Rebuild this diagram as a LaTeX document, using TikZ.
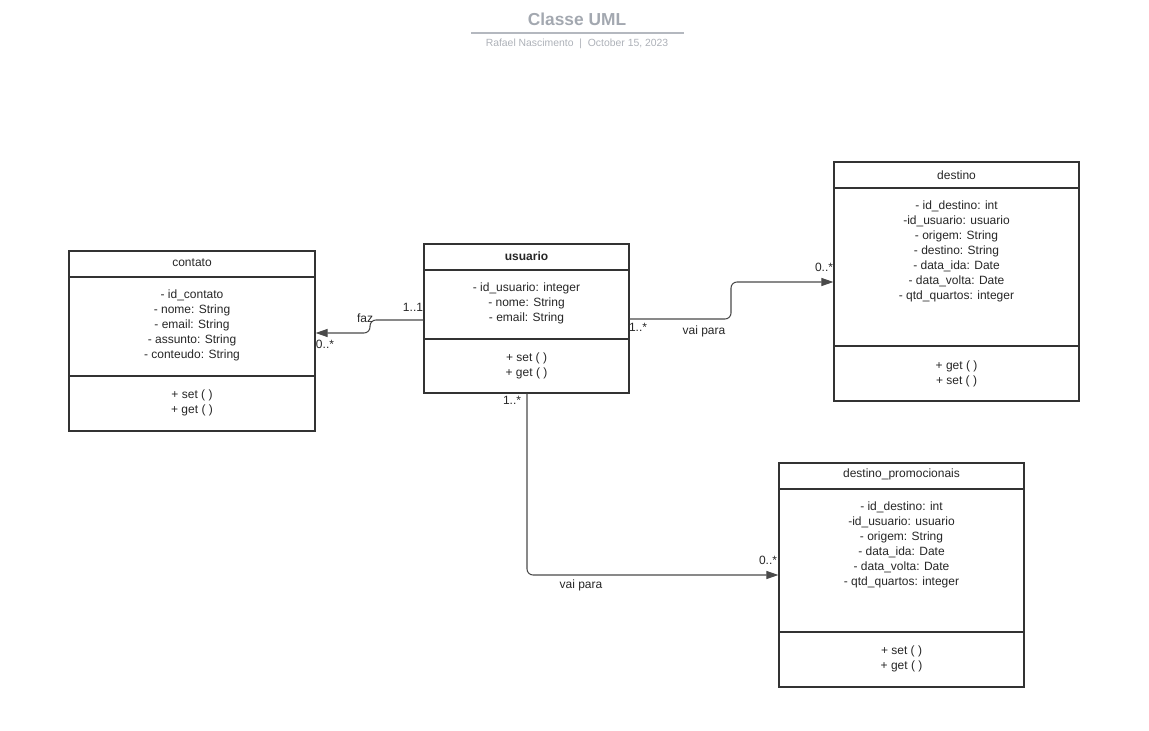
\documentclass[tikz,border=0pt]{standalone}
\usepackage{fontspec}
\setmainfont{Liberation Sans}
\usetikzlibrary{arrows.meta,fit}
\definecolor{boxline}{HTML}{333333}
\definecolor{conn}{HTML}{4A4A4A}
\definecolor{titlegray}{HTML}{A3A8B0}
\definecolor{subgray}{HTML}{ADB1B8}
\definecolor{rulegray}{HTML}{B4B8BF}
\definecolor{txt}{HTML}{262626}
\tikzset{
  every node/.style={font=\fontsize{9}{11.25}\selectfont, text=txt, inner sep=0pt},
  classbox/.style={draw=boxline, line width=0.9pt, inner sep=0pt},
  sepline/.style={draw=boxline, line width=0.9pt},
  compart/.style={align=center},
  assoc/.style={draw=conn, line width=0.8pt, rounded corners=4.5pt, -{Triangle[length=9pt,width=6pt]}},
  mult/.style={}
}
\begin{document}
\begin{tikzpicture}[x=0.75pt,y=-0.75pt]
\useasboundingbox (0,0) rectangle (1149,731);

% title block
\node[font=\fontsize{13}{15}\selectfont\bfseries, text=titlegray] (title) at (577,19) {Classe UML};
\draw[rulegray, line width=1.4pt] (471,33) -- (684,33);
\node[font=\fontsize{7.8}{9}\selectfont, text=subgray] (sub) at (577,44) {Rafael Nascimento \ | \ October 15, 2023};

% contato
\node[classbox, fit={(69,251) (315,431)}] (contato) {};
\draw[sepline] (contato.west |- 0,277) -- (contato.east |- 0,277);
\draw[sepline] (contato.west |- 0,376) -- (contato.east |- 0,376);
\node (contatoN) at (192,263) {contato};
\node[compart] (contatoA) at (192,325.5) {- id\_contato\\- nome: String\\- email: String\\- assunto: String\\- conteudo: String};
\node[compart] (contatoM) at (192,402.5) {+ set ( )\\+ get ( )};

% usuario
\node[classbox, fit={(424,244) (629,393)}] (usuario) {};
\draw[sepline] (usuario.west |- 0,270) -- (usuario.east |- 0,270);
\draw[sepline] (usuario.west |- 0,339) -- (usuario.east |- 0,339);
\node[font=\fontsize{9}{11.25}\selectfont\bfseries] (usuarioN) at (526.5,256) {usuario};
\node[compart] (usuarioA) at (526.5,303.5) {- id\_usuario: integer\\- nome: String\\- email: String};
\node[compart] (usuarioM) at (526.5,365.5) {+ set ( )\\+ get ( )};

% destino
\node[classbox, fit={(834,162) (1079,401)}] (destino) {};
\draw[sepline] (destino.west |- 0,188) -- (destino.east |- 0,188);
\draw[sepline] (destino.west |- 0,346) -- (destino.east |- 0,346);
\node (destinoN) at (956.5,175) {destino};
\node[compart] (destinoA) at (956.5,251.5) {- id\_destino: int\\-id\_usuario: usuario\\- origem: String\\- destino: String\\- data\_ida: Date\\- data\_volta: Date\\- qtd\_quartos: integer};
\node[compart] (destinoM) at (956.5,373.5) {+ get ( )\\+ set ( )};

% destino_promocionais
\node[classbox, fit={(779,463) (1024,687)}] (promo) {};
\draw[sepline] (promo.west |- 0,489) -- (promo.east |- 0,489);
\draw[sepline] (promo.west |- 0,632) -- (promo.east |- 0,632);
\node (promoN) at (901.5,474) {destino\_promocionais};
\node[compart] (promoA) at (901.5,545) {- id\_destino: int\\-id\_usuario: usuario\\- origem: String\\- data\_ida: Date\\- data\_volta: Date\\- qtd\_quartos: integer};
\node[compart] (promoM) at (901.5,658.5) {+ set ( )\\+ get ( )};

% associations
\draw[assoc] (usuario.west |- 0,320) -- (370,320) -- (370,333) -- (contato.east |- 0,333);
\node[mult] (m1a) at (413,307) {1..1};
\node[mult] (m1b) at (325,344) {0..*};
\node[mult] (faz) at (365,318) {faz};

\draw[assoc] (usuario.east |- 0,319) -- (731,319) -- (731,282) -- (destino.west |- 0,282);
\node[mult] (m2a) at (638,327) {1..*};
\node[mult] (m2b) at (824,267) {0..*};
\node[mult] (vp1) at (704,331) {vai para};

\draw[assoc] (usuario.south -| 527,0) -- (527,575) -- (promo.west |- 0,575);
\node[mult] (m3a) at (512,400) {1..*};
\node[mult] (m3b) at (768,560) {0..*};
\node[mult] (vp2) at (581,585) {vai para};
\end{tikzpicture}
\end{document}
